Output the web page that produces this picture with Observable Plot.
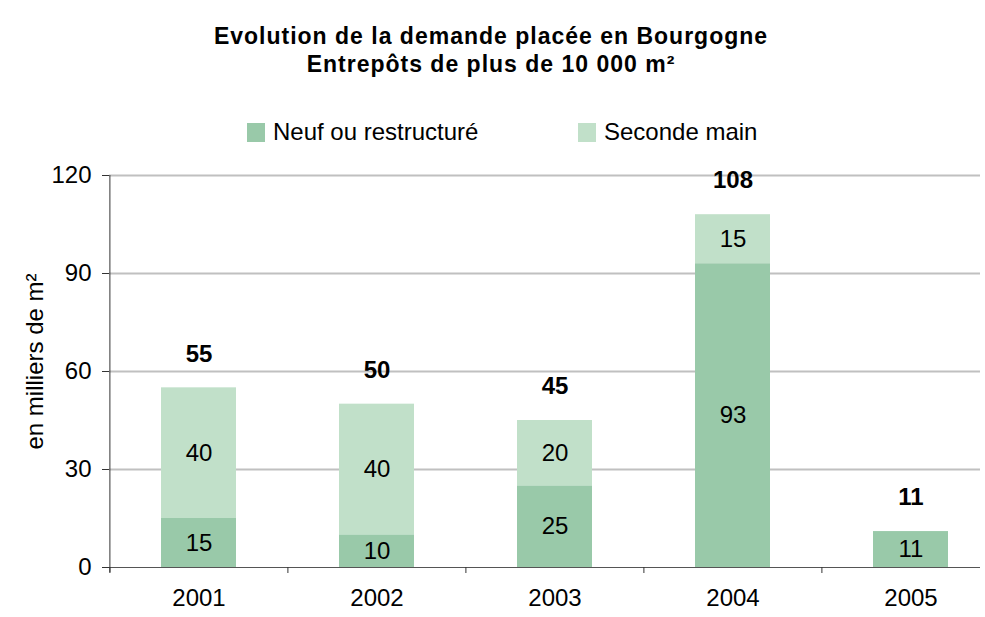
<!DOCTYPE html>
<html><head><meta charset="utf-8">
<script src="https://cdn.jsdelivr.net/npm/d3@7"></script>
<script src="https://cdn.jsdelivr.net/npm/@observablehq/plot@0.6"></script>
<style>
body{margin:0;background:#fff;font-family:"Liberation Sans",Arial,sans-serif;}
#wrap{position:relative;width:985px;height:617px;}
#title{position:absolute;left:0;top:22px;width:982px;text-align:center;font-weight:bold;font-size:23px;letter-spacing:1px;line-height:28px;color:#000;}
.leg{position:absolute;top:118px;font-size:24px;color:#000;display:flex;align-items:center;}
.sw{display:inline-block;width:18px;height:19px;margin-right:8px;}
#chart{position:absolute;left:0;top:0;}
</style></head>
<body><div id="wrap">
<div id="chart"></div>
<div id="title">Evolution de la demande placée en Bourgogne<br>Entrepôts de plus de 10 000 m²</div>
<div class="leg" style="left:247px"><span class="sw" style="background:#99c9a9"></span>Neuf ou restructuré</div>
<div class="leg" style="left:578px"><span class="sw" style="background:#c1e0c9"></span>Seconde main</div>
</div>
<script>
const years = ["2001","2002","2003","2004","2005"];
const neuf = [15,10,25,93,11];
const seconde = [40,40,20,15,0];
const totals = [55,50,45,108,11];
const seriesNames = ["Neuf ou restructuré","Seconde main"];
const colors = ["#99c9a9","#c1e0c9"];
const yTicks = [0,30,60,90,120];

const rows = [];
years.forEach((yr,i)=>{
  let base = 0;
  [neuf[i], seconde[i]].forEach((v,j)=>{
    if (v > 0) rows.push({year: yr, series: seriesNames[j], value: v, y1: base, y2: base+v, mid: base+v/2});
    base += v;
  });
});
const totalRows = years.map((yr,i)=>({year: yr, total: totals[i]}));

const W = 985, H = 617, mL = 109, mR = 5, mT = 175, mB = 50;
const xRange = [mL, 1000];
const pIn = 0.58, pOut = 0.29;
const step = (xRange[1]-xRange[0])/(years.length - pIn + 2*pOut);

const chart = Plot.plot({
  width: W, height: H, marginLeft: mL, marginRight: mR, marginTop: mT, marginBottom: mB,
  style: {fontFamily: '"Liberation Sans", Arial, sans-serif', color: "#000", background: "transparent"},
  x: {domain: years, range: xRange, paddingInner: pIn, paddingOuter: pOut, axis: null},
  y: {domain: [0,120], axis: null},
  color: {domain: seriesNames, range: colors},
  marks: [
    Plot.ruleY([30,60,90,120], {stroke: "#c0c0c0", strokeWidth: 2}),
    Plot.rectY(rows, {x: "year", y1: "y1", y2: "y2", fill: "series"}),
    Plot.ruleY([0], {stroke: "#555", strokeWidth: 1.2}),
    Plot.ruleX([...years], {x: d=>d, dx: -step/2, y1: 0, y2: 0, insetBottom: -6, stroke: "#333", strokeWidth: 1}),
    Plot.ruleX([years[0]], {x: d=>d, dx: -step/2, y1: -1.6, y2: 120, stroke: "#333", strokeWidth: 1}),
    Plot.axisY({ticks: yTicks, tickSize: 7, tickPadding: 11, fontSize: 24, label: null, stroke: "#333"}),
    Plot.text(rows, {x: "year", y: "mid", text: d=>String(d.value), fontSize: 24, fill: "#000"}),
    Plot.text(totalRows, {x: "year", y: "total", text: d=>String(d.total), dy: -34, fontSize: 24, fontWeight: "bold", fill: "#000"}),
    Plot.text(years, {x: d=>d, frameAnchor: "bottom", dy: 38, text: d=>d, fontSize: 24}),
    Plot.text(["en milliers de m²"], {frameAnchor: "left", dx: -74, dy: -10, rotate: -90, textAnchor: "middle", fontSize: 24})
  ]
});
document.getElementById("chart").appendChild(chart);
</script>
</body></html>
